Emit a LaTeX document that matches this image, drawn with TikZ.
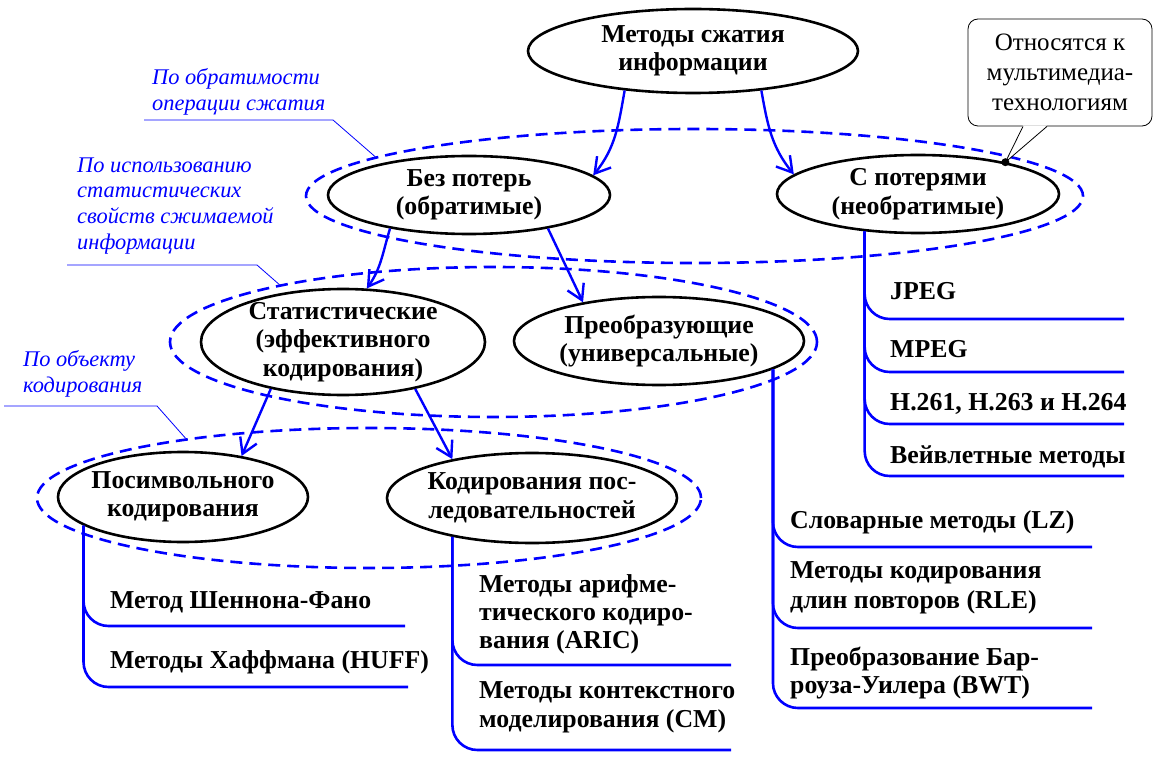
\documentclass[tikz,border=0pt]{standalone}
\usepackage{fontspec}
\setmainfont{Liberation Serif}
\IfFontExistsTF{LiberationSerif-Bold.ttf}
  {\newfontfamily\bsf{LiberationSerif-Bold.ttf}}
  {\newfontfamily\bsf{Liberation Serif}[FakeBold=2.2]}
\IfFontExistsTF{LiberationSerif-Italic.ttf}
  {\newfontfamily\isf{LiberationSerif-Italic.ttf}}
  {\newfontfamily\isf{Liberation Serif}[FakeSlant=0.2]}
\usetikzlibrary{shapes.geometric,arrows.meta}
\definecolor{lblue}{RGB}{0,0,255}
\begin{document}
\begin{tikzpicture}[x=1pt,y=-1pt,
  ell/.style={draw=black, line width=2.6pt, ellipse, inner sep=0pt},
  grp/.style={draw=lblue, line width=2.6pt, dash pattern=on 12pt off 7pt, ellipse, inner sep=0pt},
  etext/.style={align=center, font=\bsf\fontsize{25.8}{28.5}\selectfont, inner sep=0pt},
  item/.style={anchor=base west, font=\bsf\fontsize{25.8}{29}\selectfont, inner sep=0pt},
  note/.style={anchor=base west, font=\isf\fontsize{22.4}{25}\selectfont, text=lblue, inner sep=0pt},
  arr/.style={draw=lblue, line width=2.4pt, -{Straight Barb[length=15pt,width=18pt]}},
  list/.style={draw=lblue, line width=2.6pt, rounded corners=25pt},
  lead/.style={draw=lblue, line width=0.8pt},
]
\useasboundingbox (0,0) rectangle (1159,759);

% callout box
\node[draw, rounded corners=10pt, line width=0.8pt, fill=white, minimum width=184pt, minimum height=107pt, inner sep=0pt] (call) at (1060,72.5) {};
\node[align=center, font=\fontsize{25}{30}\selectfont, inner sep=0pt] (callT) at (1060,72) {Относятся к\\мультимедиа-\\технологиям};

% group ellipses
\node[grp, minimum width=777pt, minimum height=134pt] (g1) at (694.5,196) {};
\node[grp, minimum width=647pt, minimum height=150pt] (g2) at (493.5,342) {};
\node[grp, minimum width=664pt, minimum height=140pt] (g3) at (369,498) {};

% main ellipses
\node[ell, minimum width=330pt, minimum height=84pt] (top) at (693,51) {};
\node[etext] (topT) at (top) {Методы сжатия\\информации};
\node[ell, minimum width=282pt, minimum height=78pt] (bez) at (469,195) {};
\node[etext] (bezT) at (bez) {Без потерь\\(обратимые)};
\node[ell, minimum width=282pt, minimum height=78pt] (pot) at (918,194) {};
\node[etext] (potT) at (pot) {С потерями\\(необратимые)};
\node[ell, minimum width=284pt, minimum height=106pt] (stat) at (343,342) {};
\node[etext] (statT) at (stat) {Статистические\\(эффективного\\кодирования)};
\node[ell, minimum width=290pt, minimum height=88pt] (preob) at (659,341) {};
\node[etext] (preobT) at (preob) {Преобразующие\\(универсальные)};
\node[ell, minimum width=250pt, minimum height=90pt] (sym) at (183,497) {};
\node[etext] (symT) at (sym) {Посимвольного\\кодирования};
\node[ell, minimum width=290pt, minimum height=90pt] (kod) at (532,498) {};
\node[etext] (kodT) at (kod) {Кодирования пос-\\ледовательностей};

% arrows
\draw[arr] (top.210.6) to[out=-100,in=51] (bez.9.5);
\draw[arr] (top.-30.6) to[out=-80,in=129] (pot.171);
\draw[arr] (bez.203.4) to[out=-107,in=55] (stat.66);
\draw[arr] (bez.-23.4) -- (preob.153.4);
\draw[arr] (stat.213.3) -- (sym.35);
\draw[arr] (stat.-33.7) -- (kod.154.5);

% notes
\node[note] (n1a) at (152,85) {По обратимости};
\node[note] (n1b) at (152,111) {операции сжатия};
\coordinate (u1a) at (144,120); \coordinate (u1b) at (333,120);
\draw[lead] (u1a) -- (u1b) -- (g1.173.8);
\node[note] (n2a) at (77,173) {По использованию};
\node[note] (n2b) at (77,198) {статистических};
\node[note] (n2c) at (77,224) {свойств сжимаемой};
\node[note] (n2d) at (77,250) {информации};
\coordinate (u2a) at (67,265); \coordinate (u2b) at (257,265);
\draw[lead] (u2a) -- (u2b) -- (g2.165.4);
\node[note] (n3a) at (23,366) {По объекту};
\node[note] (n3b) at (23,392) {кодирования};
\coordinate (u3a) at (4,406); \coordinate (u3b) at (157,406);
\draw[lead] (u3a) -- (u3b) -- (g3.162);

% right list
\coordinate (r1) at (1124,319); \coordinate (r2) at (1124,372);
\coordinate (r3) at (1124,424); \coordinate (r4) at (1124,476);
\foreach \c in {r1,r2,r3,r4} \draw[list] (pot.215.5) |- (\c);
\node[item] (jpeg) at (890,300) {JPEG};
\node[item] (mpeg) at (890,357) {MPEG};
\node[item] (h26) at (890,410) {H.261, H.263 и H.264};
\node[item] (wav) at (890,463) {Вейвлетные методы};

% middle list
\coordinate (m1) at (1092,547); \coordinate (m2) at (1092,628); \coordinate (m3) at (1092,708);
\foreach \c in {m1,m2,m3} \draw[list] (preob.-14.6) |- (\c);
\node[item] (lz) at (790,528) {Словарные методы (LZ)};
\node[item] (rlea) at (790,578) {Методы кодирования};
\node[item] (rleb) at (790,608) {длин повторов (RLE)};
\node[item] (bwta) at (790,665) {Преобразование Бар-};
\node[item] (bwtb) at (790,693) {роуза-Уилера (BWT)};

% kod list
\coordinate (k1) at (731,665); \coordinate (k2) at (731,750);
\foreach \c in {k1,k2} \draw[list] (kod.206.7) |- (\c);
\node[item] (arca) at (479,592) {Методы арифме-};
\node[item] (arcb) at (479,620) {тического кодиро-};
\node[item] (arcc) at (479,648) {вания (ARIC)};
\node[item] (cma) at (479,698) {Методы контекстного};
\node[item] (cmb) at (479,727) {моделирования (CM)};

% sym list
\coordinate (s1) at (405,626); \coordinate (s2) at (408,687);
\foreach \c in {s1,s2} \draw[list] (sym.196.7) |- (\c);
\node[item] (sf) at (110,608) {Метод Шеннона-Фано};
\node[item] (huff) at (110,668) {Методы Хаффмана (HUFF)};

% callout pointer
\fill[white] ([xshift=-37pt,yshift=1pt]call.south) -- (pot.20) -- ([xshift=-13pt,yshift=1pt]call.south) -- cycle;
\draw[line width=0.8pt] ([xshift=-37pt]call.south) -- (pot.20) -- ([xshift=-13pt]call.south);
\fill (pot.20) circle[radius=4pt];
\end{tikzpicture}
\end{document}
